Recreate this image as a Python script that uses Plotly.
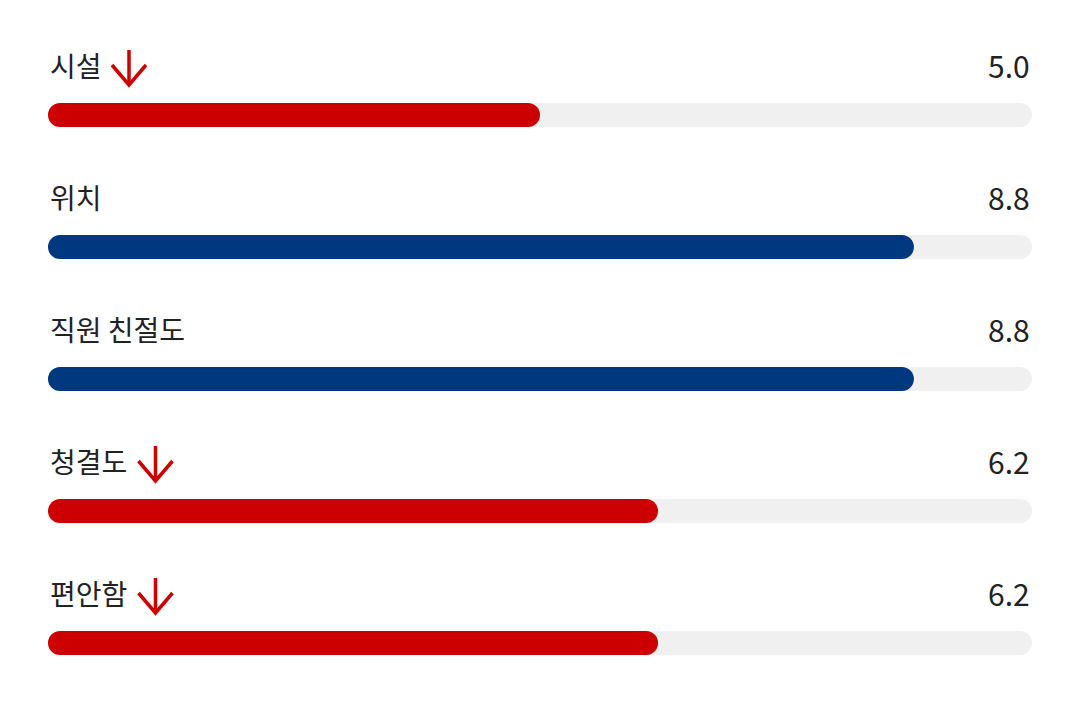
import plotly.graph_objects as go

categories = ["시설", "위치", "직원 친절도", "청결도", "편안함"]
scores = [5.0, 8.8, 8.8, 6.2, 6.2]
declining = [True, False, False, True, True]
max_score = 10

RED = "#cc0000"
NAVY = "#00387f"
TRACK = "#f0f0f0"
TEXT = "#222222"
FONT = "Noto Sans CJK KR"

# figure geometry (page body adds an 8px offset)
W, H = 1072, 712
LEFT, RIGHT = 40, 1024          # bar track pixel extent
PX_PER_UNIT = (RIGHT - LEFT) / max_score
ROW0, ROW_STEP = 107, 132       # first bar centre / row spacing (px)
BAR_H = 24

rows = list(range(len(categories)))
colors = [RED if d else NAVY for d in declining]

fig = go.Figure()

# background tracks (axis y)
fig.add_trace(go.Bar(
    base=[0] * len(rows), x=[max_score] * len(rows), y=rows, orientation="h",
    marker=dict(color=TRACK, cornerradius=BAR_H // 2, line=dict(width=0)),
    width=BAR_H / ROW_STEP, hoverinfo="skip", showlegend=False, yaxis="y",
))
# filled bars (overlaid axis y2 so their ends are rounded independently)
fig.add_trace(go.Bar(
    base=[0] * len(rows), x=scores, y=rows, orientation="h",
    marker=dict(color=colors, cornerradius=BAR_H // 2, line=dict(width=0)),
    width=BAR_H / ROW_STEP, hoverinfo="skip", showlegend=False, yaxis="y2",
))

CHAR_W = 26.5
for r, cat, sc, dec in zip(rows, categories, scores, declining):
    fig.add_annotation(
        x=LEFT / W, xref="paper", y=r, yref="y", yshift=50,
        text=cat, showarrow=False, xanchor="left", yanchor="middle",
        font=dict(family=FONT, size=28, color=TEXT),
    )
    fig.add_annotation(
        x=RIGHT / W, xref="paper", y=r, yref="y", yshift=50,
        text=f"{sc:.1f}", showarrow=False, xanchor="right", yanchor="middle",
        font=dict(family=FONT, size=30, color=TEXT),
    )
    if dec:
        cx = len(cat) * CHAR_W + 28
        path = (f"M {cx},30 L {cx},65 "
                f"M {cx - 17},50 L {cx},30 L {cx + 17},50")
        fig.add_shape(
            type="path", path=path,
            xref="paper", xsizemode="pixel", xanchor=LEFT / W,
            yref="y", ysizemode="pixel", yanchor=r,
            line=dict(color=RED, width=3.5),
        )

yrange = [(H - ROW0) / ROW_STEP, -ROW0 / ROW_STEP]
fig.update_layout(
    width=W, height=H,
    margin=dict(l=0, r=0, t=0, b=0),
    paper_bgcolor="white", plot_bgcolor="white",
    barmode="overlay",
    xaxis=dict(range=[-LEFT / PX_PER_UNIT, (W - LEFT) / PX_PER_UNIT],
               visible=False, fixedrange=True),
    yaxis=dict(range=yrange, visible=False, fixedrange=True),
    yaxis2=dict(range=yrange, visible=False, fixedrange=True, overlaying="y"),
    font=dict(family=FONT),
)

fig.write_html("out.html")
